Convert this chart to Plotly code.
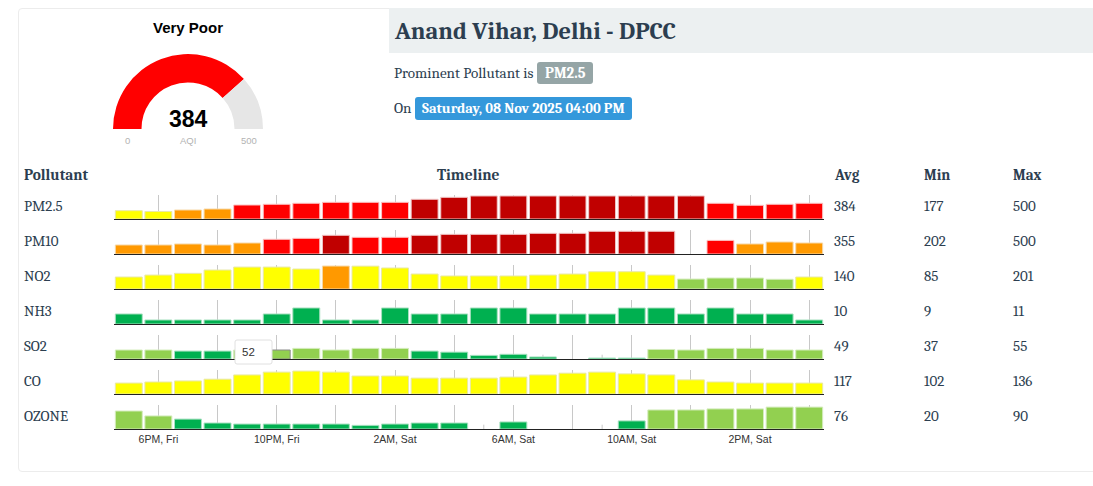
import plotly.graph_objects as go

W, H = 1093, 486

# ---------- data ----------
hours = ["5PM, Fri", "6PM, Fri", "7PM, Fri", "8PM, Fri", "9PM, Fri", "10PM, Fri", "11PM, Fri", "12AM, Sat",
         "1AM, Sat", "2AM, Sat", "3AM, Sat", "4AM, Sat", "5AM, Sat", "6AM, Sat", "7AM, Sat", "8AM, Sat",
         "9AM, Sat", "10AM, Sat", "11AM, Sat", "12PM, Sat", "1PM, Sat", "2PM, Sat", "3PM, Sat", "4PM, Sat"]
tick_hours = ["6PM, Fri", "10PM, Fri", "2AM, Sat", "6AM, Sat", "10AM, Sat", "2PM, Sat"]
grid_hours = hours[1::2]

pollutants = ["PM2.5", "PM10", "NO2", "NH3", "SO2", "CO", "OZONE"]
avg_vals = [384, 355, 140, 10, 49, 117, 76]
min_vals = [177, 202, 85, 9, 37, 102, 20]
max_vals = [500, 500, 201, 11, 55, 136, 90]

pm25 = [194, 177, 208, 229, 312, 327, 348, 368, 368, 368, 431, 472, 500, 500, 500, 500, 500, 500, 500, 500, 348, 306, 327, 348]
pm10 = [202, 202, 224, 202, 245, 326, 347, 413, 369, 369, 413, 434, 434, 434, 456, 456, 500, 500, 500, None, 302, 224, 267, 245]
no2 = [105, 122, 137, 166, 192, 192, 175, 201, 200, 184, 131, 114, 114, 114, 122, 131, 151, 151, 122, 87, 96, 96, 85, 105]
nh3 = [10, 9, 9, 9, 9, 10, 11, 9, 9, 11, 10, 10, 11, 11, 10, 10, 10, 11, 11, 10, 11, 10, 10, 9]
so2 = [52, 52, 50, 50, 52, 52, 55, 52, 55, 55, 50, 48, 42, 44, 39, None, 37, 37, 53, 52, 55, 55, 52, 52]
co = [102, 105, 108, 113, 125, 133, 136, 133, 122, 122, 116, 116, 116, 119, 125, 130, 133, 128, 125, 111, 105, 102, 102, 102]
ozone = [75, 56, 44, 29, 25, 25, 25, 25, 20, 25, 29, 29, None, 33, None, None, None, 37, 79, 79, 83, 83, 90, 90]
series = [pm25, pm10, no2, nh3, so2, co, ozone]

# value range shown in each row's 24 px plot area
y_ranges = [(21, 520), (6, 528), (0, 210), (8.33, 12.33), (35.2, 80), (71, 139), (6, 98)]

# short stub ticks seen in empty slots
stubs = {"SO2": ["7AM, Sat", "9AM, Sat"], "OZONE": ["5AM, Sat", "9AM, Sat"]}

aqi_value = 384
aqi_max = 500
hover_pollutant = "SO2"
hover_hour = "10PM, Fri"
hover_value = 52

# AQI bands: upper limit -> fill, edge
bands = [(50, "#00b050", "#a8e0c0"), (100, "#92d050", "#d4ecbc"), (200, "#ffff00", "#e8e8a8"),
         (300, "#ff9900", "#f6d8a8"), (400, "#ff0000", "#fbc4c4"), (9999, "#c00000", "#f0c8c8")]

SERIF = "Cambria, 'Liberation Serif', 'DejaVu Serif', serif"
SANS = "Arial, 'Liberation Sans', sans-serif"
INK = "#2c3e50"


def px(x):
    return x / W


def py(y):
    return 1 - y / H


def band(v):
    for limit, fill, edge in bands:
        if v is not None and v <= limit:
            return fill, edge
    return "rgba(0,0,0,0)", "rgba(0,0,0,0)"


def round_rect(x0, y0, x1, y1, r=3):
    k = r
    return (f"M {px(x0+k)} {py(y0)} L {px(x1-k)} {py(y0)} Q {px(x1)} {py(y0)} {px(x1)} {py(y0+k)} "
            f"L {px(x1)} {py(y1-k)} Q {px(x1)} {py(y1)} {px(x1-k)} {py(y1)} "
            f"L {px(x0+k)} {py(y1)} Q {px(x0)} {py(y1)} {px(x0)} {py(y1-k)} "
            f"L {px(x0)} {py(y0+k)} Q {px(x0)} {py(y0)} {px(x0+k)} {py(y0)} Z")


fig = go.Figure()
layout = {}
shapes = []
annos = []


def text(x, y, s, size=14, color=INK, bold=False, anchor="left", family=SERIF):
    annos.append(dict(x=px(x), y=py(y), xref="paper", yref="paper", text=f"<b>{s}</b>" if bold else s,
                      showarrow=False, xanchor=anchor, yanchor="middle", align=anchor,
                      font=dict(size=size, color=color, family=family), borderpad=0, borderwidth=0))


# card
shapes.append(dict(type="path", xref="paper", yref="paper", layer="below",
                   path=(f"M {px(1093)} {py(8.5)} L {px(22)} {py(8.5)} Q {px(18.5)} {py(8.5)} {px(18.5)} {py(12)} "
                         f"L {px(18.5)} {py(468)} Q {px(18.5)} {py(471.5)} {px(22)} {py(471.5)} L {px(1093)} {py(471.5)}"),
                   line=dict(color="#ececec", width=1)))
# header band
shapes.append(dict(type="rect", xref="paper", yref="paper", layer="below", x0=px(389), x1=px(1093), y0=py(8), y1=py(53),
                   fillcolor="#ecf0f1", line=dict(width=0)))
# badges
shapes.append(dict(type="path", xref="paper", yref="paper", layer="below", path=round_rect(537, 62, 593, 84),
                   fillcolor="#95a5a6", line=dict(width=0)))
shapes.append(dict(type="path", xref="paper", yref="paper", layer="below", path=round_rect(415, 97, 632, 120),
                   fillcolor="#3498db", line=dict(width=0)))

text(393.5, 31.5, "Anand Vihar, Delhi - DPCC", 24.4, bold=True)
text(394, 73, "Prominent Pollutant is", 15.1)
text(565.5, 73, "PM2.5", 15, "#ffffff", True, "center")
text(394, 108, "On", 15.1)
text(523.5, 108.5, "Saturday, 08 Nov 2025 04:00 PM", 14.5, "#ffffff", True, "center")

text(24, 175, "Pollutant", 15.3, bold=True)
text(468.5, 175, "Timeline", 15.5, bold=True, anchor="center")
text(834, 175, "Avg", 15, bold=True)
text(924, 175, "Min", 15, bold=True)
text(1013, 175, "Max", 15, bold=True)

for i, name in enumerate(pollutants):
    base = 219 + 35 * i
    suffix = "" if i == 0 else str(i + 1)
    xa, ya = f"xaxis{suffix}", f"yaxis{suffix}"
    x_ref, y_ref = f"x{suffix}", f"y{suffix}"
    vals = series[i]
    fills = [band(v)[0] for v in vals]
    edges = [band(v)[1] for v in vals]
    if name == hover_pollutant:
        edges[hours.index(hover_hour)] = "#8a8a8a"
    fig.add_trace(go.Bar(x=hours, y=[None if v is None else v - y_ranges[i][0] for v in vals],
                         base=y_ranges[i][0], xaxis=x_ref, yaxis=y_ref,
                         width=0.91, marker=dict(color=fills, line=dict(color=edges, width=1)),
                         showlegend=False, hoverinfo="skip"))
    is_last = i == len(pollutants) - 1
    layout[xa] = dict(domain=[px(114), px(824)], anchor=y_ref, type="category", categoryorder="array",
                      categoryarray=hours, range=[-0.5, 23.5], tickmode="array",
                      tickvals=grid_hours, ticktext=[h if h in tick_hours else "" for h in grid_hours],
                      showgrid=True, gridcolor="#c8c8c8", gridwidth=1, showline=True, linecolor="#222222",
                      linewidth=1.2, ticks="", zeroline=False, showticklabels=is_last, tickangle=0,
                      tickfont=dict(size=10.5, color="#333333", family=SANS), fixedrange=True)
    layout[ya] = dict(domain=[py(base), py(base - 24)], anchor=x_ref, range=list(y_ranges[i]), visible=False,
                      showgrid=False, zeroline=False, fixedrange=True)
    for h in stubs.get(name, []):
        shapes.append(dict(type="line", xref=x_ref, yref=f"{y_ref} domain", x0=h, x1=h, y0=0, y1=0.18, layer="below",
                           line=dict(color="#c8c8c8", width=1)))
    ty = base - 13
    text(24, ty, name, 15)
    text(834, ty, str(avg_vals[i]), 15)
    text(924, ty, str(min_vals[i]), 15)
    text(1013, ty, str(max_vals[i]), 15)

# tooltip
shapes.append(dict(type="path", xref="paper", yref="paper", layer="above", path=round_rect(235, 340, 272, 364, 2),
                   fillcolor="#ffffff", line=dict(color="#e0e0e0", width=1)))
text(248, 352, str(hover_value), 11.5, "#333333", family=SANS, anchor="center")

# gauge
fig.add_trace(go.Pie(values=[aqi_value, aqi_max - aqi_value, aqi_max], sort=False, direction="clockwise", rotation=270,
                     hole=0.62, textinfo="none", hoverinfo="skip", showlegend=False,
                     marker=dict(colors=["#ff0000", "#e6e6e6", "rgba(0,0,0,0)"], line=dict(width=0)),
                     domain=dict(x=[px(113), px(263)], y=[py(204), py(54)])))
text(188, 27, "Very Poor", 15, "#000000", True, "center", SANS)
text(188, 119, str(aqi_value), 23, "#000000", True, "center", SANS)
text(127, 140, "0", 9.5, "#b3b3b3", anchor="center", family=SANS)
text(188, 140, "AQI", 9.5, "#b3b3b3", anchor="center", family=SANS)
text(249, 140, str(aqi_max), 9.5, "#b3b3b3", anchor="center", family=SANS)

fig.update_layout(width=W, height=H, autosize=False, margin=dict(l=0, r=0, t=0, b=0, pad=0), paper_bgcolor="#ffffff",
                  plot_bgcolor="rgba(0,0,0,0)", bargap=0.09, shapes=shapes, annotations=annos, showlegend=False, **layout)

fig.write_html("out.html", config=dict(displayModeBar=False),
               post_script="document.body.style.margin='0';document.body.style.overflow='hidden';")
